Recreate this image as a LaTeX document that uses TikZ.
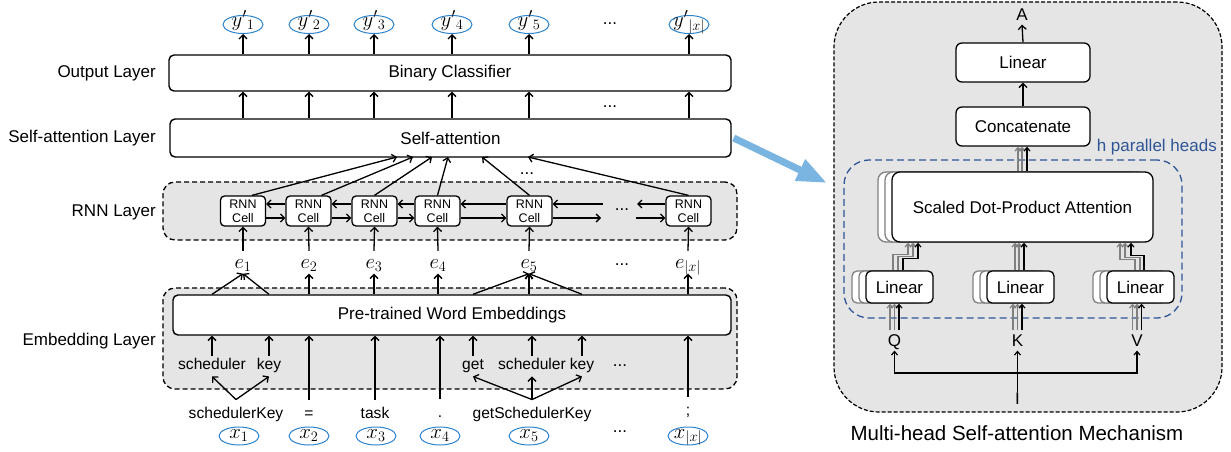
\documentclass[tikz,border=0pt]{standalone}
\usepackage{fontspec}
\setmainfont{Liberation Sans}
\usetikzlibrary{arrows.meta,shapes.geometric,calc}

\definecolor{panelgray}{RGB}{229,229,229}
\definecolor{tokblue}{RGB}{46,132,204}
\definecolor{headblue}{RGB}{47,85,151}
\definecolor{flowblue}{RGB}{122,180,225}
\definecolor{ghost}{RGB}{128,128,128}

\tikzset{
  lbl/.style={font=\fontsize{17}{20}\selectfont, inner sep=0pt, text height=12.2pt, text depth=3.6pt},
  tok/.style={font=\fontsize{15.6}{18}\selectfont, inner sep=0pt, text height=11.2pt, text depth=3.3pt},
  mth/.style={font=\fontsize{21}{24}\selectfont, inner sep=1pt, text height=9pt, text depth=4.5pt, anchor=base},
  dots/.style={font=\fontsize{17}{20}\selectfont, inner sep=0pt, anchor=base},
  bigbox/.style={draw, line width=1.4pt, rounded corners=5pt, fill=white, inner sep=0pt, font=\fontsize{17}{20}\selectfont},
  cell/.style={draw, line width=1.3pt, rounded corners=4pt, fill=white, minimum width=45pt, minimum height=30pt, inner sep=0pt, align=center, font=\fontsize{12.5}{14}\selectfont},
  region/.style={draw, line width=1.3pt, dash pattern=on 5pt off 3pt, fill=panelgray, rounded corners=12pt, inner sep=0pt},
  var/.style={ellipse, draw=tokblue, line width=1pt, minimum width=40pt, minimum height=18pt, inner ysep=0pt, inner xsep=-5pt, text height=6pt, text depth=2pt, font=\fontsize{20}{22}\selectfont},
  arr/.style={line width=1.3pt, -{Straight Barb[length=4pt,width=8pt]}},
  thinarr/.style={line width=1.2pt, -{Straight Barb[length=3.5pt,width=6pt]}},
  ghostarr/.style={thinarr, draw=ghost},
  headbox/.style={draw, line width=1.3pt, rounded corners=6pt, fill=white, inner sep=0pt, font=\fontsize{17}{20}\selectfont},
  ghostbox/.style={headbox, draw=ghost},
}

\begin{document}
\begin{tikzpicture}[x=1pt,y=-1pt]
\useasboundingbox (0,0) rectangle (1231,452);

% ---------------- left: layer names ----------------
\node[lbl, anchor=east] (lab out) at (156,73) {Output Layer};
\node[lbl, anchor=east] (lab sa) at (156,138) {Self-attention Layer};
\node[lbl, anchor=east] (lab rnn) at (156,212) {RNN Layer};
\node[lbl, anchor=east] (lab emb) at (156,341) {Embedding Layer};

% shaded layer regions
\node[region, minimum width=574pt, minimum height=58pt] (rnnreg) at (450,211) {};
\node[region, minimum width=574pt, minimum height=101pt] (embreg) at (450,338.5) {};

% main layer boxes
\node[bigbox, minimum width=562pt, minimum height=36pt] (out) at (450,73) {Binary Classifier};
\node[bigbox, minimum width=561pt, minimum height=38pt] (sa) at (450.5,138) {Self-attention};
\node[bigbox, minimum width=558pt, minimum height=40pt] (pre) at (452,315) {Pre-trained Word Embeddings};

% predicted labels
\foreach \n/\cx/\s in {1/243/1, 2/309/2, 3/374/3, 4/452/4, 5/529/5, 6/689/{|x|}}
  \node[var] (y\n) at (\cx,24.5) {$y'{}_{\s}$};
\foreach \n in {1,...,6} {
  \draw[arr] (out.north -| y\n) -- (y\n.south);
  \draw[arr] (sa.north -| y\n) -- (out.south -| y\n);
}
\node[dots] (d1) at (610,24.4) {...};
\node[dots] (d2) at (610,107.2) {...};

% RNN cells
\foreach \n/\cx in {1/243, 2/308.5, 3/374.5, 4/437.5, 5/529.5, 6/688.5}
  \node[cell] (c\n) at (\cx,211) {RNN\\Cell};
\foreach \a/\b in {1/2, 2/3, 3/4, 4/5} {
  \draw[arr] ([yshift=7pt]c\b.west) -- ([yshift=7pt]c\a.east);
  \draw[arr] ([yshift=-7pt]c\a.east) -- ([yshift=-7pt]c\b.west);
}
\coordinate (gapL top) at (603,204);
\coordinate (gapL bot) at (601,218);
\coordinate (gapR top) at (637,204);
\coordinate (gapR bot) at (636,218);
\draw[arr] (gapL top) -- ([yshift=7pt]c5.east);
\draw[arr] ([yshift=-7pt]c5.east) -- (gapL bot);
\draw[arr] ([yshift=7pt]c6.west) -- (gapR top);
\draw[arr] (gapR bot) -- ([yshift=-7pt]c6.west);
\node[dots] (d4) at (622,210.4) {...};

% cell outputs into self-attention
\coordinate (s1) at (397,157);
\coordinate (s2) at (413,157);
\coordinate (s3) at (432,157);
\coordinate (s4) at (448,157);
\coordinate (s5) at (482,157);
\coordinate (s6) at (528,157);
\draw[arr] ([xshift=9pt]c1.north) -- (s1);
\draw[arr] ([xshift=13pt]c2.north) -- (s2);
\draw[arr] (c3.north) -- (s3);
\draw[arr] (c4.north) -- (s4);
\draw[arr] (c5.north) -- (s5);
\draw[arr] (c6.north) -- (s6);
\node[dots] (d3) at (527,174.4) {...};

% word embeddings
\foreach \n/\cx/\s in {1/243/1, 2/309/2, 3/374/3, 4/438/4, 5/529/5, 6/688/{|x|}} {
  \node[mth] (e\n) at (\cx,268) {$e_{\s}$};
  \draw[arr] ([yshift=7pt]e\n.north) -- (c\n.south);
}
\node[dots] (d5) at (622,265) {...};

% sub-tokens
\node[tok] (sch1) at (212,366) {scheduler};
\node[tok] (key1) at (269,366) {key};
\node[tok] (get5) at (473,366) {get};
\node[tok] (sch5) at (532,366) {scheduler};
\node[tok] (key5) at (582,366) {key};
\node[dots] (d6) at (620,366) {...};
\foreach \t in {sch1, key1, get5, sch5, key5}
  \draw[arr] ([yshift=3pt]\t.north) -- (pre.south -| \t);

% embeddings up to e_i
\draw[arr] (pre.north -| sch1) -- (e1.south);
\draw[arr] (pre.north -| key1) -- (e1.south);
\foreach \n in {2,3,4,6}
  \draw[arr] (pre.north -| e\n) -- (e\n.south);
\draw[arr] (pre.north -| get5) -- (e5.south);
\draw[arr] (pre.north -| e5) -- (e5.south);
\draw[arr] (pre.north -| key5) -- (e5.south);

% source tokens
\node[tok] (w1) at (236,415) {schedulerKey};
\node[tok] (w2) at (309,415) {=};
\node[tok] (w3) at (375,415) {task};
\node[tok] (w4) at (440,414) {.};
\node[tok] (w5) at (532,415) {getSchedulerKey};
\node[tok] (w6) at (688,412) {;};
\draw[arr] ([yshift=8pt]w1.north) -- ([yshift=-3pt]sch1.south);
\draw[arr] ([yshift=8pt]w1.north) -- ([yshift=-3pt]key1.south);
\draw[arr] ([yshift=8pt]w5.north) -- ([yshift=-3pt]get5.south);
\draw[arr] ([yshift=8pt]w5.north) -- ([yshift=-3pt]sch5.south);
\draw[arr] ([yshift=8pt]w5.north) -- ([yshift=-3pt]key5.south);
\foreach \t in {w2, w3, w4, w6}
  \draw[arr] ([yshift=8pt]\t.north) -- (pre.south -| \t);

% input variables
\foreach \n/\cx/\s in {1/239/1, 2/309/2, 3/376/3, 4/440/4, 5/529/5, 6/688/{|x|}}
  \node[var] (x\n) at (\cx,436) {$x_{\s}$};
\node[dots] (d7) at (620,432.8) {...};

% ---------------- right: multi-head attention ----------------
\node[draw, line width=1.2pt, dash pattern=on 4pt off 2pt, fill=panelgray, rounded corners=45pt,
      minimum width=388pt, minimum height=410pt, inner sep=0pt] (panel) at (1028,207) {};

\coordinate (flowtip) at (827,183);
\draw[flowblue, line width=7pt, -{Triangle[length=30pt,width=22pt]}] ([xshift=2pt]sa.east) -- (flowtip);

\node[draw=headblue, line width=1.3pt, dash pattern=on 7pt off 4pt, rounded corners=25pt,
      minimum width=338pt, minimum height=158pt, inner sep=0pt] (heads) at (1013,239) {};
\node[lbl, anchor=east, text=headblue] (hlab) at (1217,147) {h parallel heads};

\node[lbl] (A) at (1022,16.5) {A};
\node[headbox, minimum width=134pt, minimum height=39pt] (lin) at (1023,62.5) {Linear};
\node[headbox, minimum width=134pt, minimum height=39pt] (cat) at (1023,126.5) {Concatenate};
\draw[arr] (lin.north) -- (A.south);
\draw[arr] (cat.north) -- (lin.south);

% stacked attention heads
\node[ghostbox, rounded corners=8pt, minimum width=261pt, minimum height=70pt] (sdp b2) at (1008.5,207) {};
\node[ghostbox, rounded corners=8pt, minimum width=261pt, minimum height=70pt] (sdp b1) at (1015.5,207) {};
\node[headbox, rounded corners=8pt, minimum width=261pt, minimum height=70pt] (sdp) at (1022.5,207) {Scaled Dot-Product Attention};

\foreach \nm/\cx in {qlin/899.5, klin/1020.5, vlin/1140.5} {
  \node[ghostbox, rounded corners=5pt, minimum width=67pt, minimum height=32pt] (\nm b2) at (\cx-14,287) {};
  \node[ghostbox, rounded corners=5pt, minimum width=67pt, minimum height=32pt] (\nm b1) at (\cx-7,287) {};
  \node[headbox, rounded corners=5pt, minimum width=67pt, minimum height=32pt] (\nm) at (\cx,287) {Linear};
}

% heads into concatenation
\draw[ghostarr] ([xshift=-5pt]cat.south |- sdp.north) -- ([xshift=-5pt]cat.south);
\draw[ghostarr] ([xshift=-1pt]cat.south |- sdp.north) -- ([xshift=-1pt]cat.south);
\draw[thinarr] ([xshift=4pt]cat.south |- sdp.north) -- ([xshift=4pt]cat.south);

% projections into attention
\draw[ghostarr] ([xshift=-6.5pt]qlin.north) -- ++(0,-16) -| ([xshift=8.5pt]qlin.north |- sdp.south);
\draw[ghostarr] ([xshift=-1.5pt]qlin.north) -- ++(0,-14) -| ([xshift=13.5pt]qlin.north |- sdp.south);
\draw[thinarr] ([xshift=3.5pt]qlin.north) -- ++(0,-12) -| ([xshift=18.5pt]qlin.north |- sdp.south);
\draw[ghostarr] ([xshift=-5.5pt]klin.north) -- ([xshift=-5.5pt]klin.north |- sdp.south);
\draw[ghostarr] ([xshift=-1.5pt]klin.north) -- ([xshift=-1.5pt]klin.north |- sdp.south);
\draw[thinarr] ([xshift=3.5pt]klin.north) -- ([xshift=3.5pt]klin.north |- sdp.south);
\draw[ghostarr] ([xshift=-5.5pt]vlin.north) -- ++(0,-11) -| ([xshift=-20.5pt]vlin.north |- sdp.south);
\draw[ghostarr] ([xshift=-0.5pt]vlin.north) -- ++(0,-13) -| ([xshift=-15.5pt]vlin.north |- sdp.south);
\draw[thinarr] ([xshift=3.5pt]vlin.north) -- ++(0,-15) -| ([xshift=-9.5pt]vlin.north |- sdp.south);

% Q, K, V inputs
\node[lbl] (Q) at (894.5,342.5) {Q};
\node[lbl] (K) at (1017.5,342.5) {K};
\node[lbl] (V) at (1137,342.5) {V};
\foreach \lab/\bx in {Q/qlin, K/klin, V/vlin} {
  \draw[ghostarr] ([xshift=-4.5pt,yshift=4pt]\lab.north) -- ([xshift=-4.5pt]\lab.north |- \bx.south);
  \draw[ghostarr] ([yshift=4pt]\lab.north) -- (\lab.north |- \bx.south);
  \draw[thinarr] ([xshift=4.5pt,yshift=4pt]\lab.north) -- ([xshift=4.5pt]\lab.north |- \bx.south);
}

\node[lbl] (I) at (1017.5,399.7) {I};
\coordinate (split) at (1017.5,373);
\draw[thinarr] (I.north) -- (K.south);
\draw[thinarr] (split) -| (Q.south);
\draw[thinarr] (split) -| (V.south);

\node[font=\fontsize{20.5}{24}\selectfont, inner sep=0pt] (caption) at (1017,433) {Multi-head Self-attention Mechanism};
\end{tikzpicture}
\end{document}
